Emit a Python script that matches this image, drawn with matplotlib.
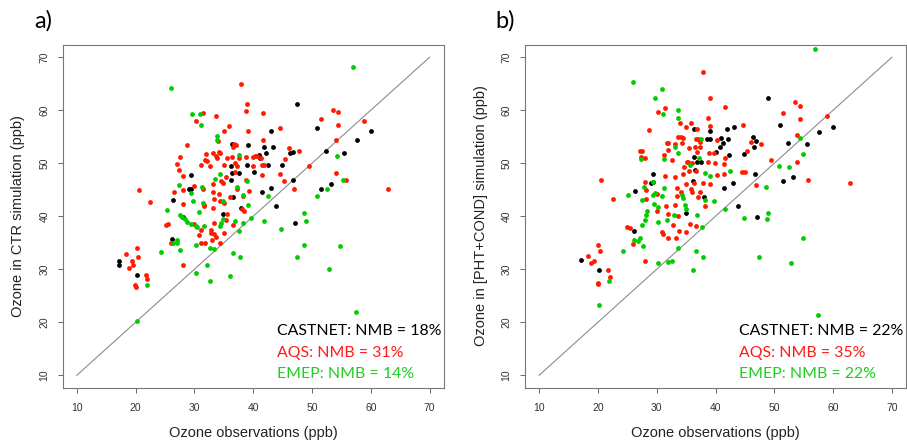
import matplotlib
matplotlib.use('Agg')
import matplotlib.pyplot as plt

# Observed vs simulated ozone (ppb), read off the figure
# panel a) CTR simulation
ctr_castnet = [(47.4, 61.25), (50.9, 56.6), (43.0, 56.0), (60.0, 56.1), (57.6, 54.4), (36.4, 53.6),
               (39.1, 53.4), (41.9, 53.1), (43.3, 53.1), (46.3, 52.0), (46.8, 52.2), (52.3, 52.3),
               (55.5, 51.9), (29.4, 47.75), (41.0, 51.5), (41.1, 50.9), (42.1, 52.0), (42.5, 49.6),
               (39.0, 49.6), (36.3, 49.4), (40.2, 48.4), (44.9, 49.6), (46.7, 46.75), (37.6, 48.1),
               (36.4, 48.1), (36.2, 46.9), (29.0, 45.2), (29.5, 45.1), (26.3, 43.1), (28.0, 39.9),
               (36.5, 43.6), (41.5, 44.5), (43.1, 45.3), (43.8, 42.0), (38.0, 41.6), (34.9, 40.4),
               (47.1, 38.75), (51.5, 45.1), (53.2, 46.1), (26.2, 35.75), (17.1, 31.6), (17.2, 30.75),
               (20.3, 29.0)]
ctr_aqs = [(37.9, 64.9), (39.0, 61.25), (38.7, 59.9), (41.7, 59.5), (31.4, 59.4), (33.7, 59.0),
           (53.6, 60.1), (54.4, 59.75), (51.5, 58.4), (30.2, 58.0), (54.4, 57.3), (58.9, 57.9),
           (35.9, 57.0), (39.1, 56.1), (35.0, 56.1), (44.5, 56.6), (34.0, 54.2), (41.6, 54.4),
           (54.0, 54.4), (28.8, 53.4), (36.8, 53.6), (37.0, 53.4), (36.6, 53.1), (46.1, 52.9),
           (47.8, 52.3), (27.5, 51.1), (27.1, 49.9), (27.4, 48.75), (28.1, 47.5), (31.9, 51.75),
           (31.8, 50.6), (32.1, 50.5), (33.1, 51.9), (33.6, 51.3), (33.8, 50.9), (34.4, 51.9),
           (34.1, 52.1), (35.5, 50.9), (36.4, 51.1), (37.6, 50.9), (36.9, 50.1), (35.1, 49.6),
           (31.2, 49.6), (32.6, 49.4), (37.2, 49.5), (38.7, 51.1), (39.9, 51.1), (40.3, 51.3),
           (40.7, 51.4), (41.4, 50.9), (41.5, 49.7), (41.8, 49.6), (40.0, 49.5), (41.5, 47.8),
           (45.4, 50.75), (49.5, 49.4), (44.6, 48.0), (45.2, 46.6), (36.9, 48.3), (35.4, 47.4),
           (34.5, 46.6), (34.8, 46.2), (38.7, 46.9), (33.2, 46.1), (30.0, 45.75), (28.0, 44.9),
           (31.5, 45.1), (26.6, 44.6), (20.6, 44.9), (22.5, 42.6), (28.0, 42.4), (31.6, 42.1),
           (33.1, 44.6), (34.1, 44.25), (33.3, 43.25), (34.3, 42.9), (35.1, 42.5), (36.0, 43.6),
           (37.2, 45.1), (38.2, 43.75), (39.3, 44.75), (46.9, 45.1), (38.1, 41.4), (38.4, 40.9),
           (33.2, 41.6), (31.6, 41.9), (35.6, 40.4), (35.4, 39.2), (33.4, 38.75), (36.6, 38.3),
           (30.0, 38.6), (54.1, 48.1), (55.8, 46.9), (62.9, 45.2), (35.0, 36.9), (32.8, 37.4),
           (32.9, 36.9), (31.1, 37.4), (30.8, 36.5), (33.3, 36.6), (33.6, 36.1), (33.0, 35.6),
           (31.8, 35.0), (31.1, 35.0), (34.3, 35.0), (26.0, 35.0), (25.1, 38.3), (25.5, 38.6),
           (20.2, 34.0), (18.4, 32.9), (19.4, 31.6), (20.4, 32.3), (18.8, 30.2), (19.5, 30.8),
           (28.0, 30.75), (21.8, 29.0), (22.0, 28.1), (19.97, 27.0), (20.0, 26.7)]
ctr_emep = [(57.0, 68.1), (26.1, 64.1), (29.6, 59.25), (30.9, 59.25), (31.1, 57.3), (33.8, 55.1),
            (33.8, 54.3), (54.3, 51.4), (37.5, 51.5), (34.3, 47.9), (33.5, 47.0), (38.9, 46.6),
            (29.5, 44.4), (31.3, 45.6), (27.3, 45.9), (25.3, 41.2), (29.8, 42.9), (31.4, 42.5),
            (27.5, 40.2), (27.9, 39.9), (28.4, 39.4), (28.7, 39.0), (29.4, 38.6), (30.2, 38.1),
            (30.4, 37.9), (30.8, 40.8), (34.9, 42.9), (37.3, 45.6), (38.2, 44.0), (42.5, 43.9),
            (39.1, 42.1), (34.8, 39.4), (34.6, 38.75), (31.7, 38.1), (34.3, 38.1), (36.9, 39.1),
            (38.2, 38.75), (39.6, 39.6), (41.8, 39.1), (48.9, 39.1), (48.7, 40.7), (44.7, 37.6),
            (50.8, 43.8), (52.6, 45.1), (55.2, 46.75), (37.6, 37.3), (30.2, 34.6), (32.6, 34.1),
            (33.4, 33.75), (27.5, 33.6), (27.0, 35.6), (26.4, 34.9), (27.0, 34.9), (24.3, 33.3),
            (36.6, 33.1), (37.8, 32.4), (47.5, 32.3), (48.7, 34.6), (54.8, 34.4), (32.1, 30.75),
            (52.9, 30.1), (30.3, 29.25), (32.6, 27.75), (36.1, 28.7), (22.0, 27.0), (20.2, 20.3),
            (57.5, 22.0)]

# panel b) PHT+COND simulation
pht_castnet = [(48.9, 62.3), (36.3, 56.5), (43.1, 56.8), (42.0, 56.4), (39.1, 56.1), (51.0, 57.25),
               (57.6, 55.9), (60.0, 56.75), (46.3, 55.0), (46.85, 54.2), (52.3, 53.9), (55.55, 53.6),
               (46.5, 53.1), (40.9, 54.8), (42.1, 54.5), (41.3, 53.8), (40.7, 53.0), (40.1, 52.1),
               (39.0, 54.6), (38.6, 54.5), (36.3, 51.1), (42.35, 51.5), (44.9, 51.7), (36.9, 50.25),
               (37.6, 50.25), (36.5, 48.7), (46.7, 47.9), (29.4, 47.9), (29.0, 46.25), (29.4, 46.4),
               (36.1, 46.6), (41.4, 45.25), (43.0, 46.2), (51.5, 46.6), (53.2, 47.4), (26.3, 44.75),
               (38.0, 43.6), (34.9, 40.6), (43.8, 42.0), (47.1, 39.9), (26.1, 37.3), (17.1, 31.7),
               (20.2, 29.8)]
pht_aqs = [(37.9, 67.2), (39.0, 62.3), (53.5, 61.5), (54.4, 60.75), (41.7, 60.6), (31.4, 60.4),
           (30.2, 59.75), (51.5, 59.4), (58.9, 59.0), (54.4, 58.3), (38.7, 58.6), (34.0, 57.6),
           (35.9, 57.6), (39.1, 57.1), (35.0, 56.75), (36.9, 56.5), (44.6, 57.25), (28.75, 56.2),
           (53.9, 55.3), (46.1, 54.1), (47.8, 53.6), (40.3, 54.4), (36.6, 54.5), (37.1, 54.5),
           (37.4, 54.1), (33.6, 54.9), (34.1, 55.0), (34.5, 54.8), (33.1, 53.7), (32.0, 53.9),
           (31.7, 53.75), (31.95, 52.5), (34.25, 53.75), (35.5, 52.9), (36.5, 53.0), (36.9, 52.1),
           (37.3, 53.1), (27.2, 52.4), (27.45, 52.4), (27.4, 51.25), (28.0, 50.9), (31.25, 51.5),
           (32.55, 50.6), (38.9, 51.9), (39.8, 51.9), (41.7, 50.9), (45.3, 52.4), (49.4, 50.6),
           (53.8, 50.2), (35.4, 50.25), (34.6, 49.25), (35.2, 50.2), (35.95, 50.0), (38.7, 50.2),
           (39.9, 50.0), (41.4, 49.9), (36.7, 48.6), (35.55, 48.6), (34.5, 47.9), (33.1, 47.4),
           (40.25, 47.75), (41.5, 47.9), (44.55, 48.3), (45.0, 48.3), (31.4, 47.6), (28.0, 46.5),
           (20.6, 46.9), (36.4, 46.25), (34.9, 46.1), (33.4, 45.3), (35.9, 45.2), (37.8, 46.25),
           (39.1, 46.1), (46.9, 45.9), (55.8, 46.75), (62.8, 46.25), (28.1, 44.9), (22.5, 43.25),
           (28.1, 43.25), (30.0, 44.25), (33.4, 43.9), (34.1, 44.6), (35.95, 44.5), (37.3, 44.6),
           (37.1, 43.7), (38.2, 41.9), (31.6, 41.9), (33.1, 42.1), (30.1, 40.9), (31.9, 40.4),
           (33.6, 40.0), (35.7, 38.6), (36.7, 38.25), (32.8, 38.4), (30.9, 37.1), (31.1, 36.7),
           (32.0, 35.9), (33.2, 35.9), (33.8, 37.3), (35.0, 37.1), (25.0, 37.9), (25.5, 37.75),
           (26.0, 34.75), (20.1, 34.5), (20.4, 33.5), (18.3, 32.5), (19.4, 31.6), (18.8, 31.1),
           (28.0, 31.6), (21.7, 29.8), (22.0, 28.5), (20.0, 27.5), (20.0, 27.2)]
pht_emep = [(57.0, 71.6), (26.0, 65.4), (30.85, 64.0), (29.7, 62.4), (31.1, 59.25), (33.7, 60.0),
            (33.7, 58.5), (54.3, 54.8), (37.5, 54.6), (33.1, 53.1), (33.6, 52.0), (27.3, 50.75),
            (31.25, 50.75), (37.25, 50.9), (54.9, 51.7), (50.8, 49.4), (52.5, 49.25), (35.7, 49.6),
            (38.2, 48.25), (39.1, 47.6), (42.5, 48.5), (29.4, 46.5), (48.6, 45.6), (25.2, 44.0),
            (27.85, 45.6), (27.5, 43.0), (29.3, 44.0), (29.7, 44.4), (30.9, 43.9), (31.3, 45.25),
            (34.25, 44.0), (34.4, 43.5), (38.2, 43.1), (39.7, 42.9), (29.5, 42.4), (30.3, 41.8),
            (34.8, 42.1), (34.9, 41.3), (33.0, 40.2), (36.8, 40.2), (37.65, 38.0), (41.7, 41.4),
            (48.9, 40.6), (48.7, 39.4), (44.8, 39.6), (28.4, 40.9), (28.2, 40.25), (28.0, 39.3),
            (27.5, 38.4), (30.2, 39.0), (31.7, 39.25), (26.2, 35.6), (26.8, 35.4), (27.1, 35.9),
            (27.6, 34.4), (33.7, 34.1), (54.9, 35.9), (24.3, 33.4), (36.6, 33.5), (37.9, 32.4),
            (47.45, 32.3), (30.2, 31.2), (32.0, 31.4), (32.55, 31.6), (52.8, 31.25), (21.95, 27.8),
            (36.1, 29.8), (20.2, 23.25), (57.5, 21.3)]

ctr_nmb = [18, 31, 14]
pht_nmb = [22, 35, 22]
networks = ['CASTNET', 'AQS', 'EMEP']
colors = ['black', '#ff1a00', '#00cc00']
text_colors = ['black', '#ff1a1a', '#22cc22']
ticks = [10, 20, 30, 40, 50, 60, 70]

W, H = 907, 446
fig = plt.figure(figsize=(W / 100, H / 100), dpi=100)

panels = [
    ('a)', 62.7, 'Ozone in CTR simulation (ppb)', [ctr_castnet, ctr_aqs, ctr_emep], ctr_nmb),
    ('b)', 525.0, 'Ozone in [PHT+COND] simulation (ppb)', [pht_castnet, pht_aqs, pht_emep], pht_nmb),
]

for tag, left, ylab, sets, nmb in panels:
    ax = fig.add_axes([left / W, (H - 388) / H, 381 / W, 343.5 / H])
    # 1:1 line
    ax.plot([10, 70], [10, 70], color='#8c8c8c', lw=0.8, zorder=1)
    for pts, c in zip(sets, colors):
        xs = [p[0] for p in pts]
        ys = [p[1] for p in pts]
        ax.scatter(xs, ys, s=12, c=c, linewidths=0, zorder=2)

    ax.set_xlim(7.6, 72.4)
    ax.set_ylim(7.6, 72.4)
    ax.set_xticks(ticks)
    ax.set_yticks(ticks)
    ax.set_xticklabels([str(t) for t in ticks], fontsize=7.5, color='#333333', family='Liberation Sans')
    ax.set_yticklabels([str(t) for t in ticks], fontsize=7.5, color='#333333', family='Liberation Sans',
                       rotation=90, va='center')
    ax.tick_params(axis='x', length=3.6, width=0.7, color='#666666', pad=7.5)
    ax.tick_params(axis='y', length=3.6, width=0.7, color='#666666', pad=6)
    for sp in ax.spines.values():
        sp.set_color('#777777')
        sp.set_linewidth(0.8)

    for i in range(3):
        ax.text(44.0, [18.4, 14.2, 10.3][i], f'{networks[i]}: NMB = {nmb[i]}%',
                color=text_colors[i], fontsize=11.4, family='Lato', ha='left', va='center')

    cx = (left + 381 / 2) / W
    fig.text(cx, (H - 432.7) / H, 'Ozone observations (ppb)', fontsize=10.5,
             family='Liberation Sans', color='#222222', ha='center', va='center')
    fig.text((left - 44.2) / W, (H - 216) / H, ylab, fontsize=10.5, rotation=90,
             family='Liberation Sans', color='#222222', ha='center', va='center')
    fig.text((left - 19.5) / W, (H - 21) / H, tag, fontsize=17, family='Lato',
             ha='center', va='center')

plt.savefig('out.png', dpi=100)
